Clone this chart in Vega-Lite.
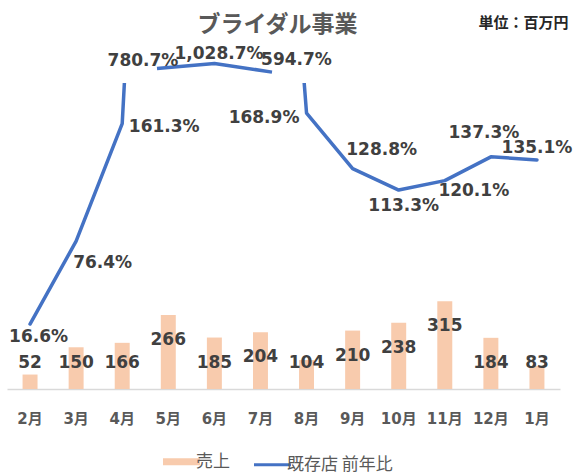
{
  "$schema": "https://vega.github.io/schema/vega-lite/v6.json",
  "width": 553,
  "height": 306,
  "autosize": {"type": "none"},
  "padding": {"left": 7, "top": 83, "right": 17, "bottom": 85},
  "background": "white",
  "title": {
    "text": "ブライダル事業",
    "anchor": "middle",
    "frame": "group",
    "dx": -6,
    "offset": -22,
    "font": "Noto Sans CJK JP",
    "fontSize": 23,
    "fontWeight": "bold",
    "color": "#595959"
  },
  "config": {
    "view": {"stroke": null},
    "text": {"font": "DejaVu Sans", "fontWeight": "bold", "fontSize": 17, "color": "#404040"}
  },
  "datasets": {
    "d": [
      {"month": "2月", "sales": 52, "yoy": 0.166},
      {"month": "3月", "sales": 150, "yoy": 0.764},
      {"month": "4月", "sales": 166, "yoy": 1.613},
      {"month": "5月", "sales": 266, "yoy": 7.807},
      {"month": "6月", "sales": 185, "yoy": 10.287},
      {"month": "7月", "sales": 204, "yoy": 5.947},
      {"month": "8月", "sales": 104, "yoy": 1.689},
      {"month": "9月", "sales": 210, "yoy": 1.288},
      {"month": "10月", "sales": 238, "yoy": 1.133},
      {"month": "11月", "sales": 315, "yoy": 1.201},
      {"month": "12月", "sales": 184, "yoy": 1.373},
      {"month": "1月", "sales": 83, "yoy": 1.351}
    ]
  },
  "data": {"name": "d"},
  "layer": [
    {
      "encoding": {
        "x": {
          "field": "month", "type": "nominal", "sort": null,
          "scale": {"domain": ["2月","3月","4月","5月","6月","7月","8月","9月","10月","11月","12月","1月"], "paddingInner": 0.675, "paddingOuter": 0.3375},
          "axis": {
            "title": null, "labelAngle": 0,
            "labelFont": "DejaVu Sans, Noto Sans CJK JP", "labelFontWeight": "bold", "labelFontSize": 15, "labelColor": "#595959",
            "ticks": false, "tickSize": 0, "labelPadding": 29, "labelBaseline": "middle",
            "domainColor": "#D9D9D9", "domainWidth": 1.5, "grid": false
          }
        }
      },
      "layer": [
        {
          "mark": {"type": "bar"},
          "encoding": {
            "y": {
              "field": "sales", "type": "quantitative",
              "scale": {"domain": [0, 1100], "nice": false},
              "axis": {
                "orient": "right", "title": "単位：百万円", "labels": false, "ticks": false, "domain": false, "grid": false,
                "titleAngle": 0, "titleAlign": "right", "titleBaseline": "middle", "titleX": 8, "titleY": -61,
                "titleFont": "Noto Sans CJK JP", "titleFontSize": 15, "titleFontWeight": "bold", "titleColor": "#262626"
              }
            },
            "color": {
              "datum": "売上",
              "scale": {"domain": ["売上", "既存店 前年比"], "range": ["#F8CBAD", "#4472C4"]},
              "legend": {
                "orient": "none", "legendX": 166, "legendY": 370,
                "title": null, "direction": "horizontal",
                "symbolType": "stroke", "symbolSize": 1369,
                "labelFont": "Noto Sans CJK JP", "labelFontSize": 17, "labelColor": "#595959",
                "columnPadding": 18, "labelOffset": 6,
                "encode": {
                  "symbols": {
                    "update": {
                      "strokeWidth": {"signal": "datum.value === '売上' ? 7 : 3"},
                      "stroke": {"signal": "datum.value === '売上' ? '#F8CBAD' : '#4472C4'"},
                      "fill": {"value": "transparent"},
                      "opacity": {"value": 1}
                    }
                  }
                }
              }
            }
          }
        },
        {
          "transform": [{"filter": "datum.sales >= 184"}],
          "mark": {"type": "text", "dy": 25},
          "encoding": {
            "y": {"field": "sales", "type": "quantitative", "axis": {"orient": "right", "title": "単位：百万円"}},
            "text": {"field": "sales", "type": "quantitative"}
          }
        },
        {
          "transform": [{"filter": "datum.sales < 184"}],
          "mark": {"type": "text", "dy": 25},
          "encoding": {
            "y": {"datum": 184, "type": "quantitative", "axis": {"orient": "right", "title": "単位：百万円"}},
            "text": {"field": "sales", "type": "quantitative"}
          }
        }
      ]
    },
    {
      "encoding": {
        "x": {
          "field": "month", "type": "nominal", "sort": null,
          "scale": {"domain": ["2月","3月","4月","5月","6月","7月","8月","9月","10月","11月","12月","1月"], "paddingInner": 0.675, "paddingOuter": 0.3375},
          "axis": null
        },
        "y": {"field": "yoy", "type": "quantitative", "scale": {"domain": [-0.303, 1.906], "nice": false, "zero": false}, "axis": null},
        "text": {"field": "yoy", "type": "quantitative", "format": ",.1%"}
      },
      "layer": [
        {
          "mark": {"type": "line", "strokeWidth": 3.5, "strokeCap": "round", "strokeJoin": "round", "clip": true},
          "encoding": {"color": {"datum": "既存店 前年比"}, "text": null}
        },
        {"transform": [{"filter": "datum.month === '2月'"}], "mark": {"type": "text", "dx": 8.5, "dy": 13}},
        {"transform": [{"filter": "datum.month === '3月'"}], "mark": {"type": "text", "dx": 26.5, "dy": 22}},
        {"transform": [{"filter": "datum.month === '4月'"}], "mark": {"type": "text", "dx": 42, "dy": 3.5}},
        {"transform": [{"filter": "datum.month === '8月'"}], "mark": {"type": "text", "dx": -42.5, "dy": 5}},
        {"transform": [{"filter": "datum.month === '9月'"}], "mark": {"type": "text", "dx": 29, "dy": -19}},
        {"transform": [{"filter": "datum.month === '10月'"}], "mark": {"type": "text", "dx": 5, "dy": 16}},
        {"transform": [{"filter": "datum.month === '11月'"}], "mark": {"type": "text", "dx": 29, "dy": 10}},
        {"transform": [{"filter": "datum.month === '12月'"}], "mark": {"type": "text", "dx": -7, "dy": -24}},
        {"transform": [{"filter": "datum.month === '1月'"}], "mark": {"type": "text", "dx": 0, "dy": -12}}
      ]
    },
    {
      "transform": [{"filter": {"field": "month", "oneOf": ["5月", "6月", "7月"]}}],
      "encoding": {
        "x": {
          "field": "month", "type": "ordinal", "sort": null,
          "scale": {"type": "point", "domain": ["5月", "6月", "7月"], "range": [150, 265], "padding": 0},
          "axis": null
        },
        "y": {"field": "yoy", "type": "quantitative", "scale": {"domain": [5, 11], "range": [-9, -21], "nice": false, "zero": false}, "axis": null},
        "text": {"field": "yoy", "type": "quantitative", "format": ",.1%"}
      },
      "layer": [
        {
          "mark": {"type": "line", "color": "#4472C4", "strokeWidth": 3.5, "strokeCap": "butt", "strokeJoin": "round", "clip": false},
          "encoding": {"text": null}
        },
        {"transform": [{"filter": "datum.month === '5月'"}], "mark": {"type": "text", "dx": -14, "dy": -7.5}},
        {"transform": [{"filter": "datum.month === '6月'"}], "mark": {"type": "text", "dx": 4.5, "dy": -9}},
        {"transform": [{"filter": "datum.month === '7月'"}], "mark": {"type": "text", "dx": 24.5, "dy": -12}}
      ]
    }
  ],
  "resolve": {"scale": {"x": "independent", "y": "independent", "color": "shared"}}
}
